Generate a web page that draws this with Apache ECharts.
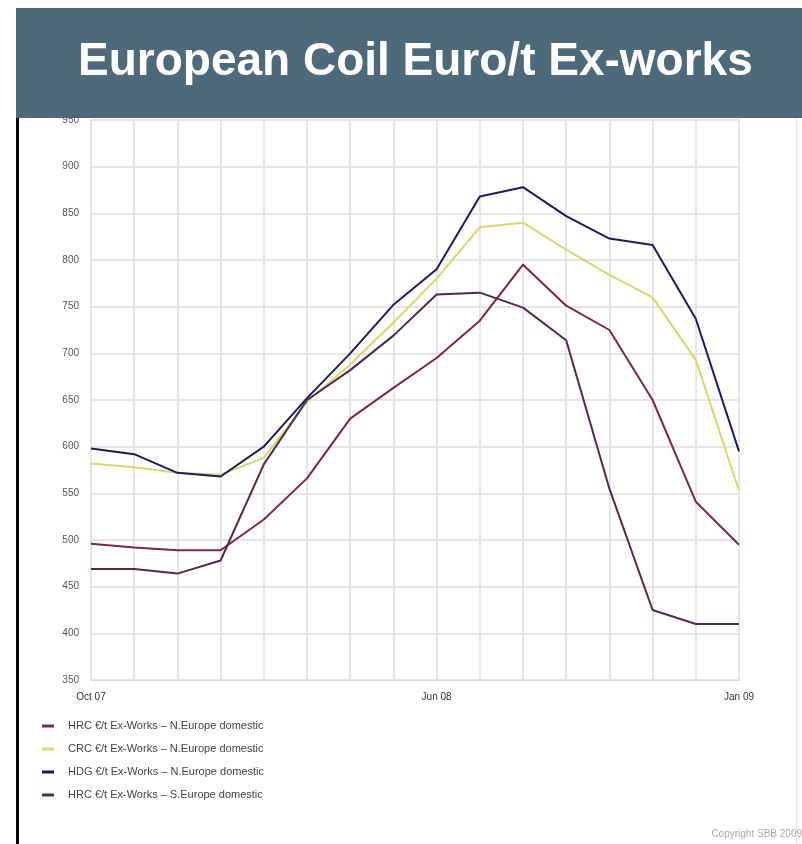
<!DOCTYPE html>
<html>
<head>
<meta charset="utf-8">
<script src="https://cdn.jsdelivr.net/npm/echarts@6/dist/echarts.min.js"></script>
<style>
  html, body { margin: 0; padding: 0; background: #fff; }
  #main { width: 802px; height: 844px; }
</style>
</head>
<body>
<div id="main"></div>
<script>
// months, Oct 07 .. Jan 09
var months = ['Oct 07', 'Nov 07', 'Dec 07', 'Jan 08', 'Feb 08', 'Mar 08', 'Apr 08', 'May 08',
              'Jun 08', 'Jul 08', 'Aug 08', 'Sep 08', 'Oct 08', 'Nov 08', 'Dec 08', 'Jan 09'];
var shownLabels = ['Oct 07', 'Jun 08', 'Jan 09'];

var seriesNames = [
    'HRC €/t Ex-Works – N.Europe domestic',
    'CRC €/t Ex-Works – N.Europe domestic',
    'HDG €/t Ex-Works – N.Europe domestic',
    'HRC €/t Ex-Works – S.Europe domestic'
];

var hrcNorth = [496, 492, 489, 489, 522, 566, 630, 663, 695, 735, 795, 751, 725, 650, 541, 495];
var crcNorth = [582, 578, 572, 570, 588, 648, 688, 733, 780, 835, 840, 811, 784, 760, 693, 553];
var hdgNorth = [598, 592, 572, 568, 600, 652, 700, 752, 790, 868, 878, 847, 823, 816, 737, 595];
var hrcSouth = [469, 469, 464, 478, 581, 650, 682, 719, 763, 765, 749, 714, 555, 425, 410, 410];

var colors = ['#7a2a3c', '#d6da6a', '#1c1c5e', '#55284f'];

var myChart = echarts.init(document.getElementById('main'));

function line(name, data, color) {
    return {
        name: name,
        type: 'line',
        data: data,
        symbol: 'none',
        lineStyle: { color: color, width: 2 },
        itemStyle: { color: color },
        emphasis: { disabled: true }
    };
}

var option = {
    backgroundColor: '#fff',
    animation: false,
    textStyle: { fontFamily: 'Liberation Sans, Arial, sans-serif' },
    grid: { left: 91, right: 63, top: 120, bottom: 164 },
    xAxis: {
        type: 'category',
        data: months,
        boundaryGap: false,
        axisLine: { lineStyle: { color: '#d8d8d8' } },
        axisTick: { show: false },
        axisLabel: {
            interval: 0,
            margin: 12,
            fontSize: 10,
            color: '#333',
            formatter: function (v) { return shownLabels.indexOf(v) >= 0 ? v : ''; }
        },
        splitLine: { show: true, lineStyle: { color: '#e6e6e6', width: 2 } }
    },
    yAxis: {
        type: 'value',
        min: 350,
        max: 950,
        interval: 50,
        axisLine: { show: true, lineStyle: { color: '#e6e6e6' } },
        axisTick: { show: false },
        axisLabel: { margin: 12, fontSize: 10, color: '#555' },
        splitLine: { lineStyle: { color: '#e6e6e6', width: 2 } }
    },
    legend: {
        orient: 'vertical',
        left: 37,
        top: 714,
        icon: 'rect',
        itemWidth: 12,
        itemHeight: 3,
        itemGap: 9,
        selectedMode: false,
        data: seriesNames,
        textStyle: { fontSize: 11, color: '#444', lineHeight: 14, padding: [0, 0, 0, 9] }
    },
    graphic: [
        { type: 'rect', z: 100, shape: { x: 16, y: 8, width: 786, height: 110 },
          style: { fill: '#4e6a7a' } },
        { type: 'text', z: 101, left: 78, top: 39,
          style: { text: 'European Coil Euro/t Ex-works', fill: '#fff',
                   font: 'bold 46px "Liberation Sans", Arial, sans-serif' } },
        { type: 'rect', z: 100, shape: { x: 16, y: 118, width: 3, height: 726 },
          style: { fill: '#000' } },
        { type: 'rect', z: 100, shape: { x: 796, y: 118, width: 1, height: 726 },
          style: { fill: '#e4e4e4' } },
        { type: 'text', z: 101, right: 0, top: 829,
          style: { text: 'Copyright SBB 2009', fill: '#aaa',
                   font: '10px "Liberation Sans", Arial, sans-serif' } }
    ],
    series: [
        line(seriesNames[0], hrcNorth, colors[0]),
        line(seriesNames[1], crcNorth, colors[1]),
        line(seriesNames[2], hdgNorth, colors[2]),
        line(seriesNames[3], hrcSouth, colors[3])
    ]
};

myChart.setOption(option);
</script>
</body>
</html>
